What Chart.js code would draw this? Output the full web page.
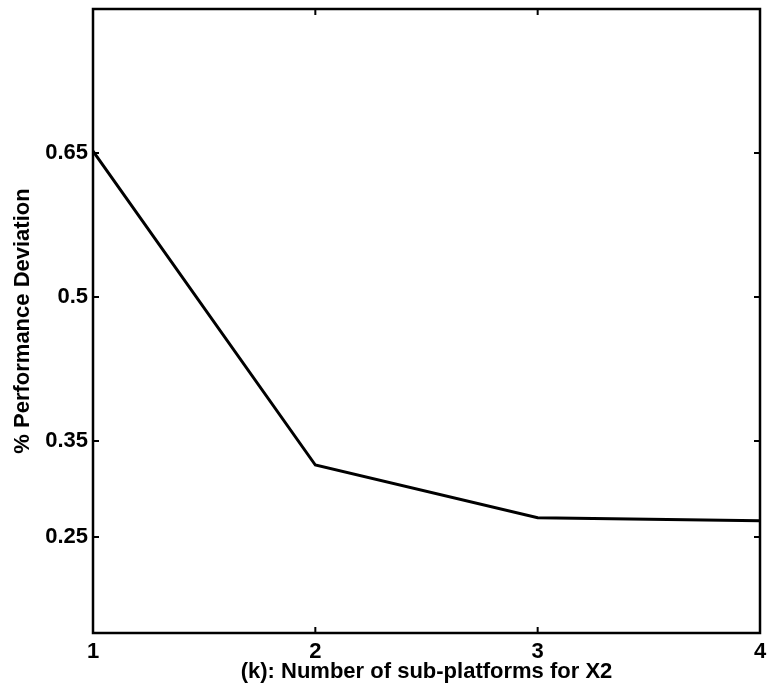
<!DOCTYPE html>
<html>
<head>
<meta charset="utf-8">
<script src="https://cdn.jsdelivr.net/npm/chart.js@4/dist/chart.umd.min.js"></script>
<style>
  html, body { margin: 0; padding: 0; background: #fff; }
  #wrap { width: 768px; height: 690px; }
</style>
</head>
<body>
<div id="wrap"><canvas id="c" width="768" height="690"></canvas></div>
<script>
// Number of sub-platforms (k) and the resulting % performance deviation
const subPlatforms = [1, 2, 3, 4];
const deviation = [0.652, 0.325, 0.270, 0.267];
const yTickValues = [0.25, 0.35, 0.5, 0.65];
const xTickValues = [1, 2, 3, 4];

const FONT = { family: "'Liberation Sans', Arial, sans-serif", size: 22, weight: 'bold' };

// Box around the plot area with short inward tick marks on all four sides
const boxFrame = {
  id: 'boxFrame',
  afterDatasetsDraw(chart) {
    const { ctx, chartArea: a, scales } = chart;
    const len = 6;
    ctx.save();
    ctx.strokeStyle = '#000';
    ctx.lineWidth = 2.5;
    ctx.strokeRect(a.left, a.top, a.right - a.left, a.bottom - a.top);
    ctx.lineWidth = 2;
    ctx.beginPath();
    scales.y.ticks.forEach(t => {
      const py = scales.y.getPixelForValue(t.value);
      ctx.moveTo(a.left, py); ctx.lineTo(a.left + len, py);
      ctx.moveTo(a.right, py); ctx.lineTo(a.right - len, py);
    });
    scales.x.ticks.forEach(t => {
      const px = scales.x.getPixelForValue(t.value);
      ctx.moveTo(px, a.bottom); ctx.lineTo(px, a.bottom - len);
      ctx.moveTo(px, a.top); ctx.lineTo(px, a.top + len);
    });
    ctx.stroke();
    ctx.restore();
  }
};

new Chart(document.getElementById('c'), {
  type: 'line',
  data: {
    datasets: [{
      data: subPlatforms.map((k, i) => ({ x: k, y: deviation[i] })),
      borderColor: '#000',
      borderWidth: 3,
      pointRadius: 0,
      tension: 0,
      fill: false
    }]
  },
  options: {
    responsive: false,
    animation: false,
    layout: { padding: { left: 0, right: 8, top: 9, bottom: 0 } },
    plugins: { legend: { display: false }, tooltip: { enabled: false } },
    scales: {
      x: {
        type: 'linear',
        min: 1, max: 4,
        afterBuildTicks(s) { s.ticks = xTickValues.map(v => ({ value: v })); },
        afterFit(s) { s.height = 57; s.paddingLeft = 0; s.paddingRight = 0; },
        grid: { display: false, drawTicks: false },
        border: { display: false },
        ticks: { color: '#000', font: FONT, padding: 6, maxRotation: 0 },
        title: { display: true, text: '(k): Number of sub-platforms for X2', color: '#000', font: FONT, padding: { top: 0, bottom: 5 } }
      },
      y: {
        type: 'linear',
        min: 0.15, max: 0.8,
        afterBuildTicks(s) { s.ticks = yTickValues.map(v => ({ value: v })); },
        afterFit(s) { s.width = 93; s.paddingTop = 0; s.paddingBottom = 0; },
        grid: { display: false, drawTicks: false },
        border: { display: false },
        ticks: { color: '#000', font: FONT, padding: 5, callback: v => String(v) },
        title: { display: true, text: '% Performance Deviation', color: '#000', font: FONT, padding: { top: 10, bottom: 0 } }
      }
    }
  },
  plugins: [boxFrame]
});
</script>
</body>
</html>
